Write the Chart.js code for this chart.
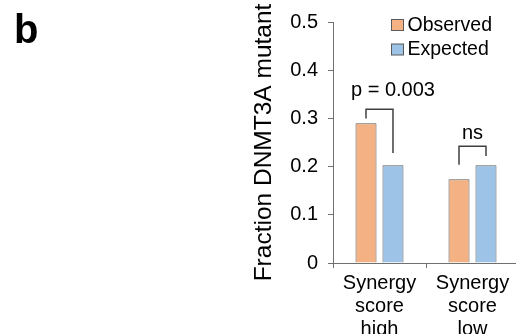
<!DOCTYPE html>
<html>
<head>
<meta charset="utf-8">
<script src="https://cdn.jsdelivr.net/npm/chart.js@4.4.1/dist/chart.umd.min.js"></script>
<style>
  html, body { margin: 0; padding: 0; background: #fff; overflow: hidden; }
  #wrap { width: 522px; height: 334px; }
</style>
</head>
<body>
<div id="wrap"><canvas id="barChart" width="522" height="334"></canvas></div>
<script>
    // Data
    const categories = [['Synergy', 'score', 'high'], ['Synergy', 'score', 'low']];
    const observed = [0.290, 0.174];
    const expected = [0.203, 0.203];
    const yTicks = [0, 0.1, 0.2, 0.3, 0.4, 0.5];

    // Significance brackets: [top, left leg bottom, right leg bottom], label, label height
    const bracketTops = [0.319, 0.242];
    const bracketLeft = [0.300, 0.204];
    const bracketRight = [0.228, 0.222];
    const bracketLabels = ['p = 0.003', 'ns'];
    const labelLevels = [0.346, 0.257];

    const FONT = '"Liberation Sans", Arial, sans-serif';

    // Brackets, legend and panel letter
    const annotations = {
        id: 'annotations',
        afterDatasetsDraw(chart) {
            const ctx = chart.ctx;
            const y = chart.scales.y;
            const area = chart.chartArea;
            const obs = chart.getDatasetMeta(0).data;
            const exp = chart.getDatasetMeta(1).data;

            ctx.save();
            ctx.strokeStyle = '#404040';
            ctx.lineWidth = 1.5;
            ctx.fillStyle = '#000';
            ctx.font = '20px ' + FONT;
            ctx.textAlign = 'center';
            ctx.textBaseline = 'alphabetic';
            for (let i = 0; i < bracketTops.length; i++) {
                const x1 = obs[i].x, x2 = exp[i].x;
                ctx.beginPath();
                ctx.moveTo(x1, y.getPixelForValue(bracketLeft[i]));
                ctx.lineTo(x1, y.getPixelForValue(bracketTops[i]));
                ctx.lineTo(x2, y.getPixelForValue(bracketTops[i]));
                ctx.lineTo(x2, y.getPixelForValue(bracketRight[i]));
                ctx.stroke();
                const tx = i === 0 ? x2 : (x1 + x2) / 2;
                ctx.fillText(bracketLabels[i], tx, y.getPixelForValue(labelLevels[i]));
            }

            // legend
            ctx.textAlign = 'left';
            ctx.textBaseline = 'middle';
            ctx.font = '19.5px ' + FONT;
            ctx.lineWidth = 1;
            chart.data.datasets.forEach((ds, i) => {
                const bx = area.left + 58.5, by = area.top - 2.5 + i * 24.5;
                ctx.fillStyle = ds.backgroundColor;
                ctx.fillRect(bx, by, 12, 11);
                ctx.strokeStyle = ds.borderColor;
                ctx.strokeRect(bx, by, 12, 11);
                ctx.fillStyle = '#000';
                ctx.fillText(ds.label, bx + 16, by + 6);
            });

            // panel letter
            ctx.font = 'bold 40px ' + FONT;
            ctx.textBaseline = 'alphabetic';
            ctx.fillText('b', 14, 43);
            ctx.restore();
        }
    };

    const config = {
        type: 'bar',
        data: {
            labels: categories,
            datasets: [{
                label: 'Observed',
                data: observed,
                backgroundColor: '#F4B183',
                borderColor: '#5a5a5a',
                borderWidth: 1,
                barPercentage: 0.78,
                categoryPercentage: 0.58
            }, {
                label: 'Expected',
                data: expected,
                backgroundColor: '#9DC3E6',
                borderColor: '#5a5a5a',
                borderWidth: 1,
                barPercentage: 0.78,
                categoryPercentage: 0.58
            }]
        },
        options: {
            responsive: false,
            animation: false,
            devicePixelRatio: 1,
            layout: { padding: { left: 250, right: 3, top: 20, bottom: 0 } },
            plugins: {
                legend: { display: false },
                tooltip: { enabled: false }
            },
            scales: {
                x: {
                    offset: true,
                    grid: { display: true, drawOnChartArea: false, offset: true, tickLength: 5, color: '#707070' },
                    border: { color: '#707070', width: 1 },
                    ticks: { color: '#000', padding: 4, maxRotation: 0, font: { family: FONT, size: 20, lineHeight: 1.15 } },
                    afterFit(scale) { scale.height = 71; }
                },
                y: {
                    min: 0,
                    max: 0.5,
                    afterBuildTicks(scale) { scale.ticks = yTicks.map(v => ({ value: v })); },
                    grid: { display: true, drawOnChartArea: false, tickLength: 5, color: '#707070' },
                    border: { color: '#707070', width: 1 },
                    ticks: { color: '#000', padding: 10, font: { family: FONT, size: 20 } },
                    title: { display: true, text: 'Fraction DNMT3A mutant', color: '#000', padding: 0, font: { family: FONT, size: 24.5 } },
                    afterFit(scale) { scale.width = 83; }
                }
            }
        },
        plugins: [annotations]
    };

    const barChart = new Chart(document.getElementById('barChart'), config);
</script>
</body>
</html>
